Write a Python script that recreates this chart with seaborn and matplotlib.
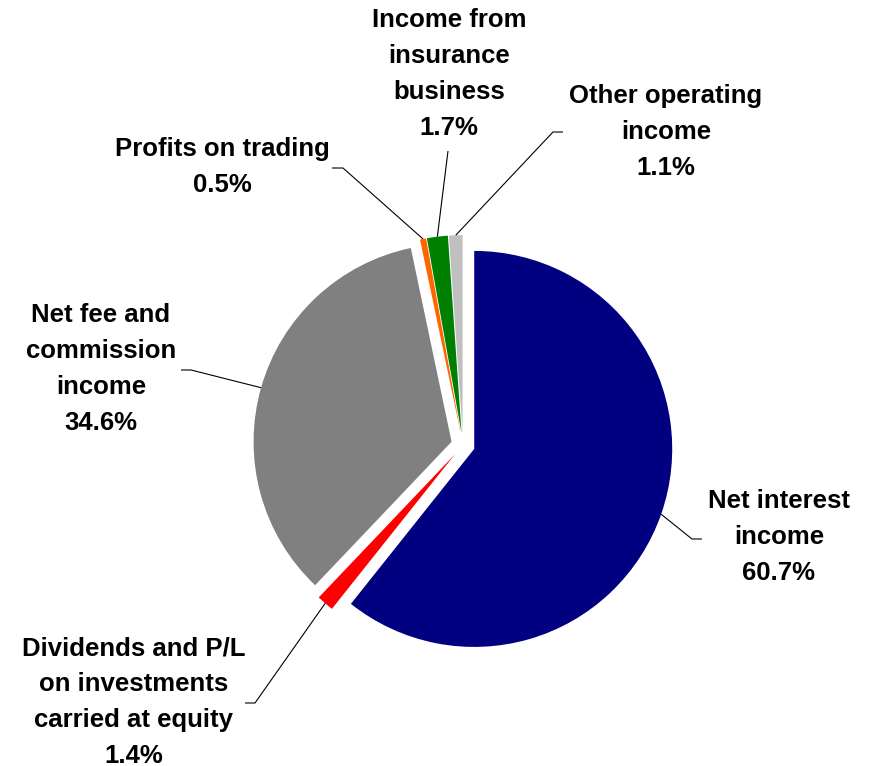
import numpy as np
import matplotlib
matplotlib.use("Agg")
import matplotlib.pyplot as plt
import seaborn as sns

# operating income breakdown (%), clockwise from 12 o'clock
categories = [
    "Net interest\nincome",
    "Dividends and P/L\non investments\ncarried at equity",
    "Net fee and\ncommission\nincome",
    "Profits on trading",
    "Income from\ninsurance\nbusiness",
    "Other operating\nincome",
]
shares = [60.7, 1.4, 34.6, 0.5, 1.7, 1.1]
colors = ["#000080", "#FF0000", "#808080", "#FF6600", "#008000", "#C0C0C0"]

# label layout in pixel space: text centre, elbow of leader, text-side end of leader
text_pos = [(779, 537), (134, 702), (101, 369), (222, 167), (449, 74), (666, 132)]
elbow_pos = [(692, 539), (255, 703), (191, 370), (343, 168), (448, 151), (553, 132)]
end_pos = [(702, 539), (245, 703), (181, 370), (332, 168), (448, 151), (563, 132)]

sns.set_theme(style="white")
plt.rcParams["font.family"] = ["Liberation Sans", "DejaVu Sans"]

W, H = 870, 766
fig = plt.figure(figsize=(W / 100, H / 100), dpi=100)
ax = fig.add_axes([0, 0, 1, 1])

radius = 198
cx, cy = 463, 445
# explode is in data units, so scale it by the radius
wedges, _ = ax.pie(
    shares,
    colors=colors,
    startangle=90,
    counterclock=False,
    explode=[0.06 * radius] * len(shares),
    radius=radius,
    center=(cx, -cy),
    wedgeprops=dict(linewidth=0),
)
ax.set_xlim(0, W)
ax.set_ylim(-H, 0)
ax.set_aspect("equal")
ax.axis("off")

for w, name, val, tp, ep, lp in zip(wedges, categories, shares, text_pos, elbow_pos, end_pos):
    ang = np.deg2rad((w.theta1 + w.theta2) / 2)
    ax_, ay_ = w.center
    anchor = (ax_ + w.r * np.cos(ang), ay_ + w.r * np.sin(ang))
    ax.plot([anchor[0], ep[0], lp[0]], [anchor[1], -ep[1], -lp[1]],
            color="black", lw=0.8, solid_capstyle="butt")
    ax.text(tp[0], -tp[1], f"{name}\n{val:.1f}%", ha="center", va="center",
            fontsize=18.5, fontweight="bold", linespacing=1.62, color="black")

fig.savefig("out.png", dpi=100)
